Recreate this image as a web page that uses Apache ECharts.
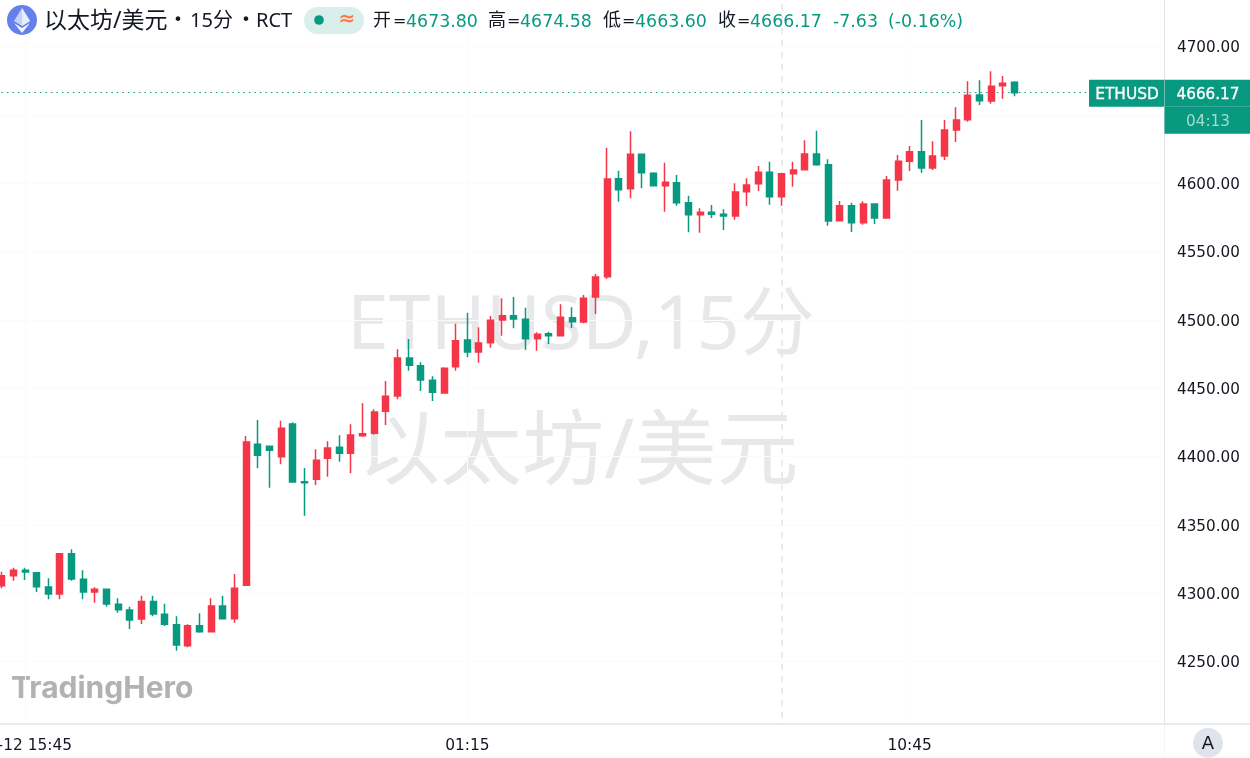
<!DOCTYPE html>
<html><head><meta charset="utf-8">
<style>html,body{margin:0;padding:0;background:#fff}#c{width:1250px;height:758px}</style>
<script src="https://cdn.jsdelivr.net/npm/echarts@6/dist/echarts.min.js"></script>
</head><body><div id="c"></div>
<script>
const categories = ['08-12 15:15','08-12 15:30','08-12 15:45','16:00','16:15','16:30','16:45','17:00','17:15','17:30','17:45','18:00','18:15','18:30','18:45','19:00','19:15','19:30','19:45','20:00','20:15','20:30','20:45','21:00','21:15','21:30','21:45','22:00','22:15','22:30','22:45','23:00','23:15','23:30','23:45','00:00','00:15','00:30','00:45','01:00','01:15','01:30','01:45','02:00','02:15','02:30','02:45','03:00','03:15','03:30','03:45','04:00','04:15','04:30','04:45','05:00','05:15','05:30','05:45','06:00','06:15','06:30','06:45','07:00','07:15','07:30','07:45','08:00','08:15','08:30','08:45','09:00','09:15','09:30','09:45','10:00','10:15','10:30','10:45','11:00','11:15','11:30','11:45','12:00','12:15','12:30','12:45','13:00','13:15','13:30','13:45','14:00','14:15','14:30','14:45','15:00','15:15','15:30','15:45','16:00 '];
const tickLabelIndex = [2, 40, 78];
const opens = [4305.5,4312.8,4316.7,4315.0,4304.5,4299.4,4328.9,4310.2,4300.9,4302.8,4291.9,4287.7,4281.1,4294.0,4284.5,4276.9,4261.6,4276.2,4271.8,4290.6,4281.3,4305.8,4408.9,4407.5,4399.9,4423.8,4381.6,4383.3,4398.7,4406.7,4402.3,4415.2,4417.0,4433.1,4444.3,4472.1,4466.4,4455.8,4446.5,4465.7,4485.2,4476.5,4483.3,4499.9,4503.0,4500.4,4486.2,4489.9,4488.4,4501.6,4498.4,4516.7,4531.6,4603.3,4596.0,4621.1,4607.2,4598.1,4600.3,4585.7,4576.9,4578.7,4577.2,4576.0,4593.8,4599.6,4608.0,4590.1,4606.9,4609.9,4621.3,4613.5,4572.5,4583.5,4571.1,4584.8,4574.5,4602.3,4616.0,4623.0,4611.1,4619.9,4638.9,4646.4,4664.5,4660.1,4671.3,4673.8];
const closes = [4312.8,4316.7,4315.5,4304.7,4299.4,4328.9,4310.4,4300.9,4302.8,4292.1,4287.9,4280.4,4294.0,4284.8,4277.2,4262.1,4276.2,4271.8,4290.6,4281.3,4303.6,4410.6,4400.9,4404.5,4420.6,4381.3,4380.8,4397.2,4406.2,4402.3,4415.7,4416.7,4432.6,4444.1,4472.1,4466.7,4456.0,4447.0,4464.5,4484.7,4476.5,4483.0,4499.7,4503.0,4500.6,4486.2,4489.4,4488.4,4501.9,4498.6,4515.8,4531.3,4603.0,4595.2,4621.1,4607.7,4598.1,4600.6,4585.7,4576.9,4578.7,4577.2,4576.0,4593.5,4598.7,4608.0,4590.1,4606.9,4609.6,4621.3,4613.5,4572.3,4583.5,4571.1,4584.8,4574.5,4602.3,4616.0,4623.0,4611.1,4619.9,4638.9,4646.2,4664.3,4660.3,4670.9,4673.1,4666.17];
const lows = [4303.6,4309.1,4309.6,4300.9,4295.5,4295.5,4309.1,4295.5,4293.0,4290.1,4285.7,4273.8,4277.4,4283.1,4276.0,4257.9,4260.4,4271.1,4271.4,4281.3,4278.4,4305.8,4391.4,4377.2,4394.3,4380.8,4356.7,4379.2,4385.2,4396.2,4387.7,4414.5,4416.0,4423.1,4441.9,4462.8,4447.9,4440.6,4446.0,4462.8,4472.6,4468.6,4479.6,4488.4,4493.8,4477.9,4477.4,4482.3,4488.4,4494.0,4497.5,4504.3,4529.9,4586.4,4588.9,4596.2,4598.1,4579.1,4583.5,4564.1,4563.8,4574.5,4565.7,4573.3,4583.3,4594.3,4584.2,4583.5,4597.4,4609.9,4612.8,4568.8,4572.5,4564.3,4569.6,4570.1,4574.5,4594.5,4608.9,4607.7,4609.6,4617.0,4630.1,4645.0,4657.2,4658.1,4661.8,4663.6];
const highs = [4315.7,4318.6,4318.6,4315.2,4310.9,4329.4,4332.1,4316.7,4304.3,4302.9,4296.2,4290.1,4298.1,4298.1,4292.3,4283.1,4277.2,4285.3,4296.2,4298.1,4314.0,4415.0,4426.7,4407.5,4426.2,4425.0,4391.6,4405.3,4411.1,4415.5,4423.6,4438.9,4434.5,4455.2,4478.4,4486.0,4468.9,4458.7,4465.3,4497.2,4505.2,4494.5,4502.8,4515.8,4516.7,4508.9,4490.9,4491.3,4511.4,4509.2,4518.2,4533.5,4626.0,4609.1,4638.0,4621.1,4608.0,4615.0,4606.0,4590.8,4581.6,4584.0,4580.9,4599.9,4603.6,4612.6,4615.7,4607.4,4615.7,4631.4,4638.4,4617.5,4587.0,4585.7,4586.7,4584.8,4605.2,4620.6,4627.2,4646.2,4630.6,4646.2,4655.5,4674.5,4675.3,4681.9,4678.4,4674.58];
const priceTicks = [4250,4300,4350,4400,4450,4500,4550,4600,4650,4700];
const sessionMarkIndex = 67;
const lastClose = 4666.17;

const UP = '#f53648', DOWN = '#089981', INK = '#131722', RULE = '#e0e3eb';
const SANS = '"DejaVu Sans","Noto Sans CJK SC",sans-serif';
const CJK = '"Noto Sans","Noto Sans CJK SC",sans-serif';

function txt(text, x, y, size, fill, extra) {
  extra = extra || {};
  const style = { text, fill, font:(extra.weight||'normal')+' '+size+'px '+(extra.family||SANS),
      textAlign:extra.align||'left', textVerticalAlign:'middle' };
  if (extra.stroke) { style.stroke = fill; style.lineWidth = extra.stroke; }
  return { type:'text', x, y, z: extra.z == null ? 50 : extra.z, silent:true, style };
}
const chart = echarts.init(document.getElementById('c'), null, {renderer:'canvas'});
const band = 11.64, plotLeft = -4.1, pxPerUnit = 1.3667;
const candles = opens.map((o,i)=>[o,closes[i],lows[i],highs[i]]);
const tickLines = tickLabelIndex.map(i=>({ xAxis:categories[i], lineStyle:{color:'#fbfbfc', width:1, type:'solid'} }));
chart.setOption({
  animation:false, backgroundColor:'#fff',
  grid:{ left:plotLeft, width:band*categories.length, top:46.5-50*pxPerUnit, height:550*pxPerUnit, containLabel:false, outerBoundsMode:'none' },
  xAxis:{ type:'category', data:categories, boundaryGap:true,
    axisLine:{show:false}, axisTick:{show:false},
    splitLine:{show:false},
    axisLabel:{ interval:i=>tickLabelIndex.includes(i), color:INK, fontFamily:SANS, fontSize:15.4, margin:8.5, hideOverlap:false } },
  yAxis:{ type:'value', position:'right', offset:4.1, min:4200, max:4750, interval:50,
    axisLine:{show:false}, axisTick:{show:false},
    splitLine:{show:true, lineStyle:{color:'#fbfbfc', width:1}},
    axisLabel:{ margin:13, align:'left',
      rich:{ p:{ color:INK, fontFamily:SANS, fontSize:15.2, padding:[4,0,0,0] } },
      formatter:v=>priceTicks.includes(v)?'{p|'+v.toFixed(2)+'}':'' } },
  series:[{ type:'candlestick', data:candles, barWidth:6.5, z:5,
    itemStyle:{ color:UP, color0:DOWN, borderColor:UP, borderColor0:DOWN, borderWidth:1.5 },
    markLine:{ silent:true, symbol:'none', label:{show:false}, animation:false, z:1,
      data:tickLines.concat([
        { xAxis:categories[sessionMarkIndex], lineStyle:{color:'#e4e5ec', width:1.5, type:[6,6]} },
        { yAxis:lastClose, lineStyle:{color:DOWN, width:1, type:[1.5,4]} }
      ]) } }],
  graphic:[]
});
const yLast = chart.convertToPixel({yAxisIndex:0}, lastClose);
const gfx = [
  txt('ETHUSD,15分', 347, 328, 75, '#e7e8ea', {family:CJK, z:0}),
  txt('以太坊/美元', 358, 455, 82, '#e7e8ea', {family:CJK, z:0}),
  txt('TradingHero', 11, 689, 30, '#b2b2b2', {family:'Inter,sans-serif', weight:'bold', z:0}),
  {type:'rect', z:39, silent:true, shape:{x:0,y:725,width:1250,height:6}, style:{fill:'#fff'}},
  {type:'line', z:40, silent:true, shape:{x1:0,y1:724,x2:1250,y2:724}, style:{stroke:RULE,lineWidth:1.5}},
  {type:'line', z:40, silent:true, shape:{x1:1164.5,y1:0,x2:1164.5,y2:724}, style:{stroke:RULE,lineWidth:1}},
  {type:'line', z:40, silent:true, shape:{x1:1164.5,y1:725,x2:1164.5,y2:758}, style:{stroke:'#f6f6f9',lineWidth:1}},
  {type:'circle', z:45, silent:true, shape:{cx:1208,cy:743,r:15}, style:{fill:RULE}},
  txt('A', 1208, 744, 18, INK, {align:'center'}),
  {type:'rect', z:45, silent:true, shape:{x:1089,y:yLast-13,width:75,height:27}, style:{fill:DOWN}},
  {type:'rect', z:45, silent:true, shape:{x:1164.5,y:yLast-13,width:86,height:27}, style:{fill:DOWN}},
  {type:'rect', z:45, silent:true, shape:{x:1164.5,y:yLast+14,width:86,height:27}, style:{fill:DOWN}},
  txt('ETHUSD', 1127, yLast+2.5, 15.4, '#fff', {align:'center', stroke:0.3}),
  txt(lastClose.toFixed(2), 1208, yLast+2.5, 15.2, '#fff', {align:'center', stroke:0.3}),
  txt('04:13', 1208, yLast+29, 15.2, '#a6dacf', {align:'center'}),
  {type:'circle', z:45, silent:true, shape:{cx:22,cy:20,r:15}, style:{fill:'#6580ea'}},
  {type:'polygon', z:46, silent:true, shape:{points:[[22,8],[14,21],[22,26],[30,21]]}, style:{fill:'#c5d1f7'}},
  {type:'polygon', z:46, silent:true, shape:{points:[[22,8],[22,26],[30,21]]}, style:{fill:'#e8edfc'}},
  {type:'polygon', z:46, silent:true, shape:{points:[[14,23],[22,33],[30,23],[22,28]]}, style:{fill:'#f2f5fe'}},
  txt('以太坊/美元', 44, 21, 23, INK, {family:CJK}),
  txt('•', 178, 21, 16, INK, {align:'center'}),
  txt('15分', 190, 21, 20, INK, {family:CJK}),
  txt('•', 246, 21, 16, INK, {align:'center'}),
  txt('RCT', 256, 21, 20, INK, {family:CJK}),
  {type:'rect', z:45, silent:true, shape:{x:304,y:7,width:60,height:27,r:13.5}, style:{fill:'#d9efeb'}},
  {type:'circle', z:46, silent:true, shape:{cx:319,cy:20,r:4.8}, style:{fill:DOWN}},
  txt('≈', 347, 20, 20, '#ff7a45', {align:'center', weight:'bold'}),
  txt('开', 373, 21, 18, INK, {family:CJK}), txt('=', 393, 22, 16, INK),
  txt('4673.80', 406, 22, 17.4, DOWN),
  txt('高', 488, 21, 18, INK, {family:CJK}), txt('=', 507, 22, 16, INK),
  txt('4674.58', 520, 22, 17.4, DOWN),
  txt('低', 603, 21, 18, INK, {family:CJK}), txt('=', 622, 22, 16, INK),
  txt('4663.60', 635, 22, 17.4, DOWN),
  txt('收', 718, 21, 18, INK, {family:CJK}), txt('=', 737, 22, 16, INK),
  txt('4666.17', 750, 22, 17.4, DOWN),
  txt('-7.63', 833, 22, 17.4, DOWN),
  txt('(-0.16%)', 888, 22, 17.4, DOWN)
];
chart.setOption({graphic:gfx});
</script></body></html>
